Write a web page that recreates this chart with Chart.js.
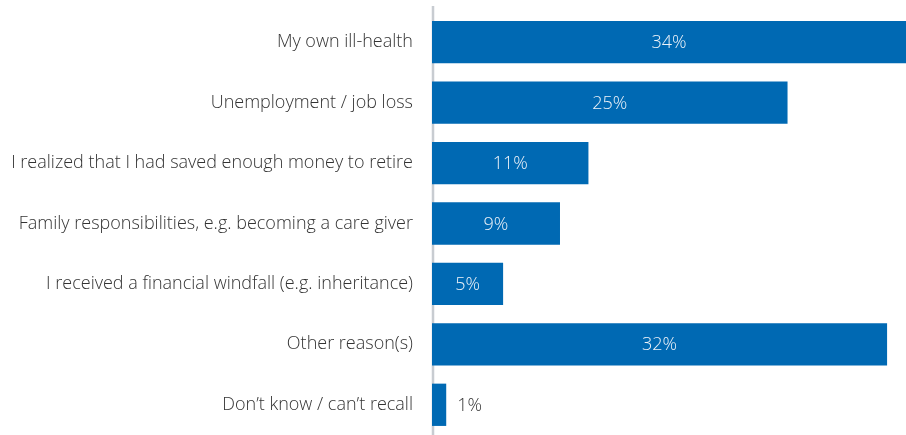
<!DOCTYPE html>
<html>
<head>
<meta charset="utf-8">
<script src="https://cdn.jsdelivr.net/npm/chart.js@4/dist/chart.umd.min.js"></script>
<style>
  html, body { margin: 0; padding: 0; background: #fff; }
  #wrap { width: 906px; height: 435px; position: relative; }
</style>
</head>
<body>
<div id="wrap"><canvas id="c"></canvas></div>
<script>
const categories = [
  'My own ill-health',
  'Unemployment / job loss',
  'I realized that I had saved enough money to retire',
  'Family responsibilities, e.g. becoming a care giver',
  'I received a financial windfall (e.g. inheritance)',
  'Other reason(s)',
  'Don\u2019t know / can\u2019t recall'
];
const shares = [34, 25, 11, 9, 5, 32, 1];
const valueLabels = ['34%', '25%', '11%', '9%', '5%', '32%', '1%'];

const FONT = '"Open Sans", sans-serif';

// vertical axis line behind the bars, a bit taller than the bar area
const axisLine = {
  id: 'axisLine',
  beforeDatasetsDraw(chart) {
    const ctx = chart.ctx;
    const x = chart.chartArea.left + 1;
    ctx.save();
    ctx.strokeStyle = '#c8ccd1';
    ctx.lineWidth = 2.5;
    ctx.beginPath();
    ctx.moveTo(x, 6);
    ctx.lineTo(x, chart.height);
    ctx.stroke();
    ctx.restore();
  }
};

// percent labels: white inside the bar, dark beside small bars
const barLabels = {
  id: 'barLabels',
  afterDatasetsDraw(chart) {
    const ctx = chart.ctx;
    const meta = chart.getDatasetMeta(0);
    ctx.save();
    ctx.font = '300 18px ' + FONT;
    ctx.textBaseline = 'middle';
    ctx.textAlign = 'center';
    meta.data.forEach((bar, i) => {
      const right = Math.min(bar.x, chart.chartArea.right);
      const w = right - bar.base;
      if (w > 40) {
        ctx.fillStyle = '#eef3f9';
        ctx.fillText(valueLabels[i], (bar.base + right) / 2, bar.y + 1);
      } else {
        ctx.fillStyle = '#333';
        ctx.textAlign = 'left';
        ctx.fillText(valueLabels[i], right + 11, bar.y + 1);
        ctx.textAlign = 'center';
      }
    });
    ctx.restore();
  }
};

new Chart(document.getElementById('c'), {
  type: 'bar',
  data: {
    labels: categories,
    datasets: [{
      data: shares,
      backgroundColor: '#0069b3',
      barPercentage: 0.7,
      categoryPercentage: 1
    }]
  },
  options: {
    indexAxis: 'y',
    responsive: true,
    maintainAspectRatio: false,
    animation: false,
    layout: { padding: { top: 12, bottom: 0, left: 0, right: 0 } },
    plugins: { legend: { display: false }, tooltip: { enabled: false } },
    scales: {
      x: { display: false, min: 0, max: 33.33 },
      y: {
        grid: { display: false, drawTicks: false },
        border: { display: false },
        ticks: { color: '#333', font: { family: FONT, size: 18, weight: 300 }, padding: 19 },
        afterFit(scale) {
          scale.width = 432;
          scale.paddingTop = 0;
          scale.paddingBottom = 0;
        }
      }
    }
  },
  plugins: [axisLine, barLabels]
});
</script>
</body>
</html>
